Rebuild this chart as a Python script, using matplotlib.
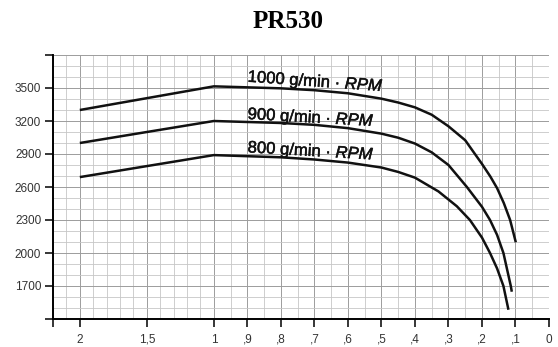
import numpy as np
import matplotlib
matplotlib.use("Agg")
import matplotlib.pyplot as plt
import matplotlib.patheffects as pe

plt.rcParams["font.family"] = ["Liberation Sans", "DejaVu Sans"]
plt.rcParams["mathtext.fontset"] = "custom"
plt.rcParams["mathtext.it"] = "Liberation Sans:italic"
plt.rcParams["mathtext.rm"] = "Liberation Sans"

# Pump curves: pressure (x) vs. delivery (y) at three speeds
x_1000 = [2.0, 1.0, 0.8, 0.7, 0.6, 0.5, 0.45, 0.4, 0.35, 0.3, 0.25, 0.221,
          0.2, 0.175, 0.155, 0.135, 0.116, 0.099]
y_1000 = [3300, 3515, 3497, 3480, 3452, 3403, 3368, 3324, 3257, 3152, 3025, 2900,
          2810, 2695, 2590, 2455, 2300, 2097]

x_900 = [2.0, 1.0, 0.8, 0.7, 0.6, 0.5, 0.45, 0.4, 0.35, 0.3, 0.245, 0.2,
         0.176, 0.155, 0.136, 0.114, 0.111]
y_900 = [3000, 3200, 3182, 3165, 3135, 3085, 3048, 2995, 2915, 2800, 2600, 2420,
         2300, 2165, 2000, 1700, 1648]

x_800 = [2.0, 1.0, 0.8, 0.7, 0.6, 0.5, 0.45, 0.4, 0.33, 0.275, 0.236, 0.2,
         0.176, 0.155, 0.136, 0.121]
y_800 = [2690, 2890, 2870, 2850, 2822, 2777, 2737, 2685, 2560, 2425, 2300, 2140,
         2000, 1860, 1700, 1484]

curve_labels = ["1000 g/min · $\\mathit{RPM}$",
                "900 g/min · $\\mathit{RPM}$",
                "800 g/min · $\\mathit{RPM}$"]

x_ticks = [2.2, 2, 1.5, 1, 0.9, 0.8, 0.7, 0.6, 0.5, 0.4, 0.3, 0.2, 0.1, 0]
x_ticklabels = ["", "2", "1,5", "1", ",9", ",8", ",7", ",6", ",5", ",4", ",3", ",2", ",1", "0"]
y_ticks = [1400, 1700, 2000, 2300, 2600, 2900, 3200, 3500, 3800]
y_ticklabels = ["", "1700", "2000", "2300", "2600", "2900", "3200", "3500", ""]


# Compressed scale above 1 (0.4 of the width per unit)
def fwd(x):
    x = np.asarray(x, dtype=float)
    return np.where(x > 1, 1 + (x - 1) * 0.4, x)


def inv(u):
    u = np.asarray(u, dtype=float)
    return np.where(u > 1, 1 + (u - 1) / 0.4, u)


fig = plt.figure(figsize=(5.58, 3.47), dpi=100)
ax = fig.add_axes([53 / 558, 28 / 347, 496 / 558, 264 / 347])
ax.set_xscale("function", functions=(fwd, inv))
ax.set_xlim(2.2, 0)
ax.set_ylim(1400, 3800)

minor_x = list(np.round(np.arange(2.2, 1.0, -0.1), 2)) + list(np.round(np.arange(1.0, -0.001, -0.05), 2))
ax.set_xticks(minor_x, minor=True)
ax.set_xticks(x_ticks)
ax.set_xticklabels(x_ticklabels)
ax.set_yticks(np.arange(1400, 3801, 100), minor=True)
ax.set_yticks(y_ticks)
ax.set_yticklabels(y_ticklabels)

ax.grid(which="minor", color="#c6c6c6", lw=0.6)
ax.grid(which="major", color="#9c9c9c", lw=0.7)
ax.set_axisbelow(True)

ax.tick_params(which="minor", length=0)
ax.tick_params(which="major", direction="out", length=5.5, width=1.1,
               color="black", labelsize=8.5, labelcolor="#333333")
ax.tick_params(axis="x", pad=5)
ax.tick_params(axis="y", pad=3)

for s in ["top", "right"]:
    ax.spines[s].set_visible(False)
for s in ["left", "bottom"]:
    ax.spines[s].set_linewidth(1.4)

for xs, ys in [(x_1000, y_1000), (x_900, y_900), (x_800, y_800)]:
    ax.plot(xs, ys, color="#111111", lw=1.8, solid_capstyle="butt",
            solid_joinstyle="round")

label_pos = [(0.90, 3557, -4.0), (0.90, 3218, -3.2), (0.90, 2915, -3.3)]
for text, (lx, ly, rot) in zip(curve_labels, label_pos):
    ax.text(lx, ly, text, fontsize=12, rotation=rot, rotation_mode="anchor",
            ha="left", va="baseline", color="#111111",
            path_effects=[pe.withStroke(linewidth=0.35, foreground="#111111")])

fig.text(288 / 558, 1 - 22 / 347, "PR530", fontsize=18, fontweight="bold",
         family="Liberation Serif", ha="center", va="center")

fig.savefig("out.png", dpi=100)
